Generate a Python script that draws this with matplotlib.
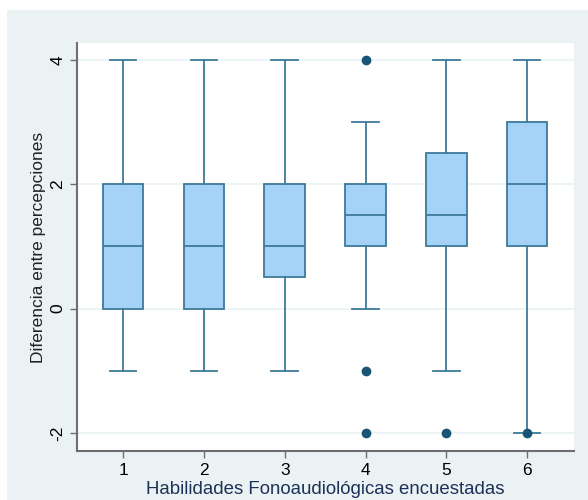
import matplotlib.pyplot as plt
from matplotlib.patches import Rectangle

plt.rcParams['font.family'] = ['Liberation Sans', 'DejaVu Sans']

# resumen de cada habilidad (cinco números + atípicos)
habilidades = ['1', '2', '3', '4', '5', '6']
bigote_inf = [-1, -1, -1, 0, -1, -2]
q1 = [0, 0, 0.5, 1, 1, 1]
mediana = [1, 1, 1, 1.5, 1.5, 2]
q3 = [2, 2, 2, 2, 2.5, 3]
bigote_sup = [4, 4, 4, 3, 4, 4]
atipicos = [[], [], [], [4, -1, -2], [-2], [-2]]
yticks = [-2, 0, 2, 4]

fondo = '#eaf2f3'
relleno = '#a5d3f7'
borde = '#3d7a9a'
punto = '#1b5576'
texto = '#1e3158'

stats = []
for i, h in enumerate(habilidades):
    stats.append(dict(label=h, whislo=bigote_inf[i], q1=q1[i], med=mediana[i],
                      q3=q3[i], whishi=bigote_sup[i], fliers=atipicos[i]))

fig = plt.figure(figsize=(5.88, 5.0), dpi=100, facecolor='white')
fig.patches.append(Rectangle((7/588, 0), 1 - 7/588, 1 - 10/500,
                             transform=fig.transFigure, facecolor=fondo,
                             edgecolor='none', zorder=-10))
ax = fig.add_axes([77/588, 49/500, 497/588, 408/500])
ax.set_facecolor('white')

ax.bxp(stats, positions=range(1, 7), widths=0.5, patch_artist=True,
       boxprops=dict(facecolor=relleno, edgecolor=borde, linewidth=1.3),
       medianprops=dict(color=borde, linewidth=1.3),
       whiskerprops=dict(color=borde, linewidth=1.3),
       capprops=dict(color=borde, linewidth=1.3),
       capwidths=0.33,
       flierprops=dict(marker='o', markerfacecolor=punto, markeredgecolor=punto,
                       markersize=6))

ax.set_xlim(0.43, 6.58)
ax.set_ylim(-2.29, 4.27)
ax.set_yticks(yticks)
ax.set_yticklabels([str(v) for v in yticks], rotation=90, va='center')
ax.yaxis.grid(True, color=fondo, linewidth=1.2, zorder=0)
ax.set_axisbelow(True)

for s in ['top', 'right']:
    ax.spines[s].set_visible(False)
for s in ['left', 'bottom']:
    ax.spines[s].set_color('#6e6e6e')
    ax.spines[s].set_linewidth(1.5)
ax.tick_params(axis='both', colors='#6e6e6e', length=5, width=1,
               labelsize=12.5, labelcolor='black')

ax.set_xlabel('Habilidades Fonoaudiológicas encuestadas', fontsize=13.4,
              color=texto, labelpad=2)
ax.set_ylabel('Diferencia entre percepciones', fontsize=12.5,
              color='#222222', labelpad=3)

fig.savefig('out.png', dpi=100, facecolor=fig.get_facecolor())
